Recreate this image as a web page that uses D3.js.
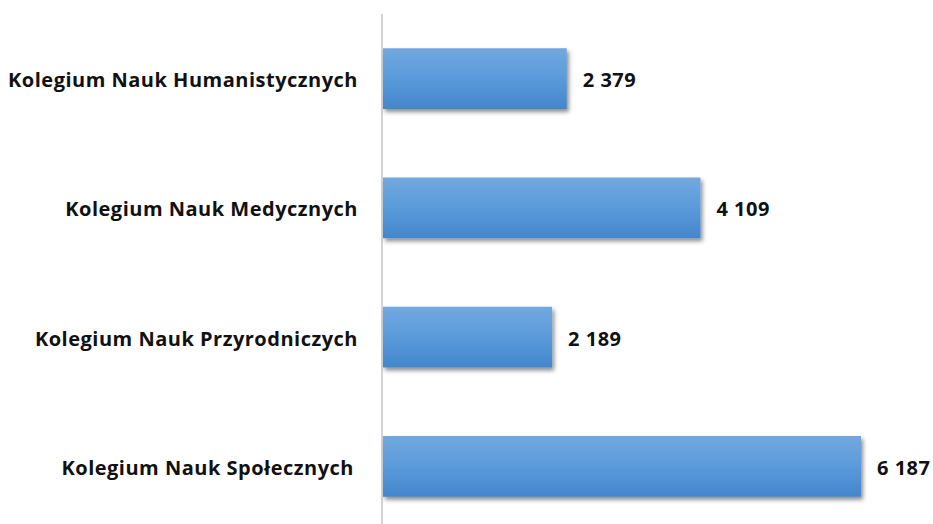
<!DOCTYPE html>
<html>
<head>
<meta charset="utf-8">
<script src="https://cdn.jsdelivr.net/npm/d3@7"></script>
<style>
  body { margin: 0; background: white; }
  text { font-family: "Open Sans", Lato, sans-serif; font-weight: bold; fill: #111; }
</style>
</head>
<body>
<svg id="vis"></svg>
<script>
// chart data
const categories = ['Kolegium Nauk Humanistycznych', 'Kolegium Nauk Medycznych', 'Kolegium Nauk Przyrodniczych', 'Kolegium Nauk Społecznych']
const values = [2379, 4109, 2189, 6187]
const valueLabels = ['2 379', '4 109', '2 189', '6 187']

const WIDTH = 933
const HEIGHT = 524
const AXIS_X = 382

var svg = d3.select('#vis')
    .attr('width', WIDTH)
    .attr('height', HEIGHT)

// gradient + shadow for the bars
var defs = svg.append('defs')
var grad = defs.append('linearGradient')
    .attr('id', 'barGrad')
    .attr('x1', 0).attr('y1', 0).attr('x2', 0).attr('y2', 1)
grad.append('stop').attr('offset', '0%').attr('stop-color', '#72a8de')
grad.append('stop').attr('offset', '45%').attr('stop-color', '#5d9cdc')
grad.append('stop').attr('offset', '100%').attr('stop-color', '#4486cb')

var shadow = defs.append('filter')
    .attr('id', 'shadow')
    .attr('x', '-10%').attr('y', '-20%').attr('width', '130%').attr('height', '160%')
shadow.append('feDropShadow')
    .attr('dx', 2).attr('dy', 3).attr('stdDeviation', 2)
    .attr('flood-color', '#000').attr('flood-opacity', 0.45)

// scales
var x = d3.scaleLinear()
    .domain([0, 6187])
    .range([AXIS_X + 1, 861])

var y = d3.scaleBand()
    .domain(categories)
    .range([14, 531])
    .paddingInner(0.53)
    .paddingOuter(0.265)

// vertical axis line
svg.append('line')
    .attr('x1', AXIS_X).attr('x2', AXIS_X)
    .attr('y1', 14).attr('y2', HEIGHT)
    .attr('stroke', '#d4d4d4')
    .attr('stroke-width', 2)

// bars
svg.selectAll('rect.bar')
    .data(values)
    .enter()
    .append('rect')
    .attr('class', 'bar')
    .attr('x', x(0))
    .attr('y', (d, i) => y(categories[i]))
    .attr('width', d => x(d) - x(0))
    .attr('height', y.bandwidth())
    .attr('fill', 'url(#barGrad)')
    .attr('filter', 'url(#shadow)')

// category labels (last one sits a bit further left in the original)
svg.selectAll('text.cat')
    .data(categories)
    .enter()
    .append('text')
    .attr('class', 'cat')
    .attr('x', (d, i) => i == 3 ? 354 : 358)
    .attr('y', d => y(d) + y.bandwidth() / 2)
    .attr('dy', '.42em')
    .attr('font-size', '20px')
    .attr('letter-spacing', '0.5px')
    .style('text-anchor', 'end')
    .text(d => d)

// value labels
svg.selectAll('text.val')
    .data(values)
    .enter()
    .append('text')
    .attr('class', 'val')
    .attr('x', d => x(d) + 16)
    .attr('y', (d, i) => y(categories[i]) + y.bandwidth() / 2)
    .attr('dy', '.42em')
    .attr('font-size', '20px')
    .attr('letter-spacing', '0.5px')
    .text((d, i) => valueLabels[i])
</script>
</body>
</html>
